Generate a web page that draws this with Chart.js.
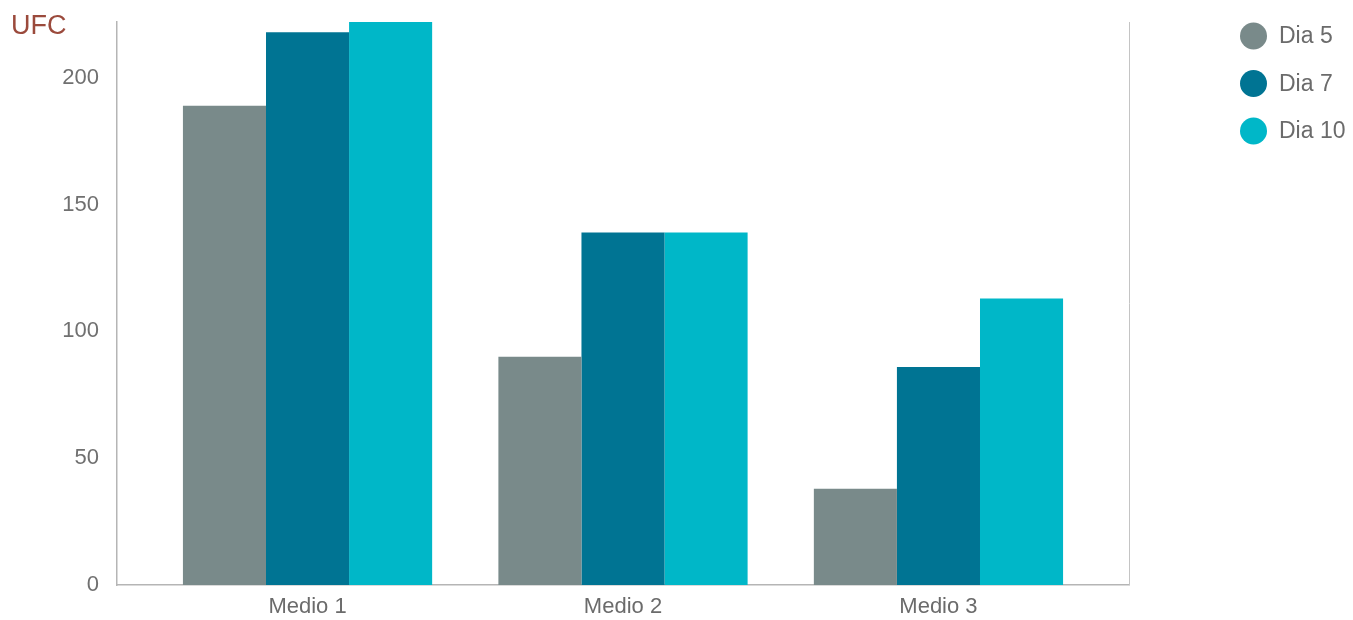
<!DOCTYPE html>
<html>
<head>
<meta charset="utf-8">
<script src="https://cdn.jsdelivr.net/npm/chart.js@4/dist/chart.umd.min.js"></script>
<style>
  html, body { margin: 0; padding: 0; background: #fff; }
  #wrap { position: relative; width: 1353px; height: 620px; }
</style>
</head>
<body>
<div id="wrap"><canvas id="chart"></canvas></div>
<script>
'use strict';

// ── Data ─────────────────────────────────────────────────────────────────────

const categories = ['Medio 1', 'Medio 2', 'Medio 3'];
const seriesNames = ['Dia 5', 'Dia 7', 'Dia 10'];
const dia5  = [189, 90, 38];
const dia7  = [218, 139, 86];
const dia10 = [222, 139, 113];
const yTicks = [0, 50, 100, 150, 200];

const COLORS = ['#798a8a', '#007493', '#00b7c8'];
const FONT = '"Liberation Sans", Arial, sans-serif';

// ── Plugins ──────────────────────────────────────────────────────────────────

// "UFC" unit label, right-hand border and the round-dot legend
const decor = {
  id: 'decor',
  afterDraw(chart) {
    const { ctx, chartArea: a } = chart;
    ctx.save();

    ctx.strokeStyle = '#c4c4c4';
    ctx.lineWidth = 1;
    ctx.beginPath();
    ctx.moveTo(a.right + 0.5, a.top);
    ctx.lineTo(a.right + 0.5, a.bottom);
    ctx.stroke();

    ctx.font = '27px ' + FONT;
    ctx.fillStyle = '#9b4a3c';
    ctx.textBaseline = 'middle';
    ctx.textAlign = 'left';
    ctx.fillText('UFC', 11, 27);

    ctx.font = '23px ' + FONT;
    chart.data.datasets.forEach((ds, i) => {
      const cy = 36 + i * 47.5;
      ctx.fillStyle = ds.backgroundColor;
      ctx.beginPath();
      ctx.arc(1253.5, cy, 13.5, 0, Math.PI * 2);
      ctx.fill();
      ctx.fillStyle = '#6b6b6b';
      ctx.fillText(ds.label, 1279, cy + 1);
    });
    ctx.restore();
  },
};

// ── Chart ────────────────────────────────────────────────────────────────────

const values = [dia5, dia7, dia10];

new Chart(document.getElementById('chart'), {
  type: 'bar',
  data: {
    labels: categories,
    datasets: seriesNames.map((name, i) => ({
      label: name,
      data: values[i],
      backgroundColor: COLORS[i],
      borderWidth: 0,
      categoryPercentage: 0.79,
      barPercentage: 1.0,
    })),
  },
  options: {
    animation: false,
    responsive: true,
    maintainAspectRatio: false,
    layout: { padding: { top: 22, right: 224, left: 0, bottom: 0 } },
    scales: {
      x: {
        offset: true,
        grid: { display: false, drawTicks: false },
        border: { display: true, color: '#b5b5b5', width: 1.5 },
        ticks: { color: '#6b6b6b', padding: 9, font: { family: FONT, size: 22 } },
        afterFit: s => { s.height = 35; s.paddingLeft = 0; s.paddingRight = 0; },
        // the groups sit a bit inward from the plot edges
        afterBuildTicks: s => { s._startValue -= 0.104; s._valueRange += 0.208; },
      },
      y: {
        min: 0,
        max: 222,
        grid: { display: false, drawTicks: false },
        border: { display: true, color: '#b5b5b5', width: 1.5 },
        ticks: { color: '#707070', padding: 18, font: { family: FONT, size: 22 } },
        afterFit: s => { s.width = 117; s.paddingTop = 0; s.paddingBottom = 0; },
        afterBuildTicks: s => { s.ticks = yTicks.map(v => ({ value: v })); },
      },
    },
    plugins: {
      legend: { display: false },
      tooltip: { enabled: false },
    },
  },
  plugins: [decor],
});
</script>
</body>
</html>
